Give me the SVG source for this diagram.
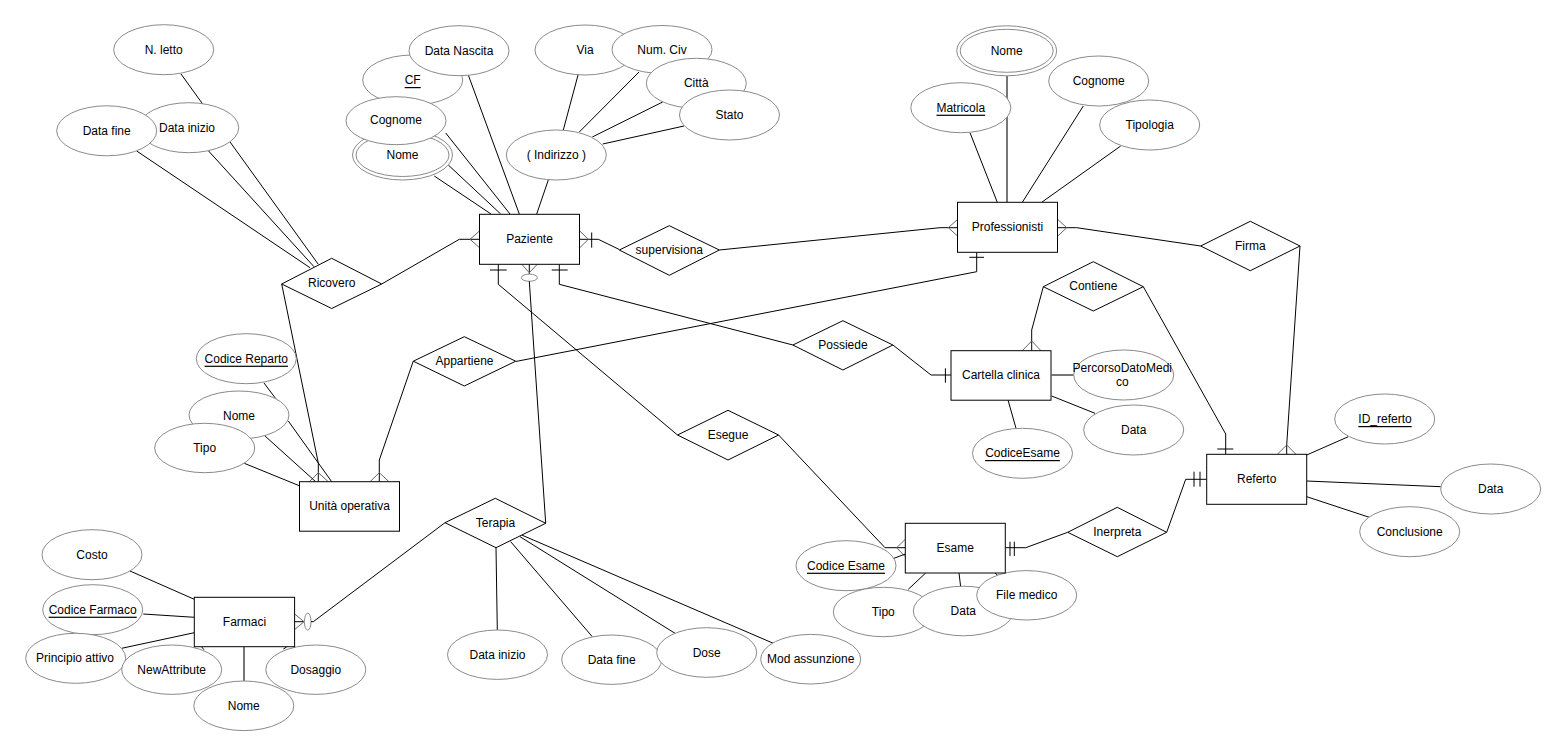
<svg xmlns="http://www.w3.org/2000/svg" width="1567" height="756" viewBox="0 0 1567 756">
<style>
.e{fill:#fff;stroke:#8a8a8a;stroke-width:1}
.r{fill:#fff;stroke:#000;stroke-width:1}
.l{fill:none;stroke:#000;stroke-width:1}
.g{fill:none;stroke:#777;stroke-width:2}
.cf{fill:none;stroke:#666;stroke-width:1}
text{font-family:"Liberation Sans",Arial,Helvetica,sans-serif;font-size:12px;text-anchor:middle;dominant-baseline:central;fill:#000}
.u{text-decoration:underline}
</style>
<rect width="1567" height="756" fill="#fff"/>
<g id="connectors">
<!-- Ricovero - Paziente -->
<path class="l" d="M381.7,284 L459.3,239.3 L480,239.3"/>
<path class="cf" d="M479.5,231 L470,239.3 L479.5,247.7"/>
<!-- Ricovero - Unita operativa -->
<path class="l" d="M281.7,284 L318.3,463 L318.3,481.7"/>
<path class="cf" d="M309.3,481.7 L318.3,472.7 L328.3,481.7"/>
<!-- Ricovero attributes -->
<path class="l" d="M136.7,151 L310,267.7"/>
<path class="l" d="M208.3,150.7 L314,266.7"/>
<path class="l" d="M181,74 L318.3,264.3"/>
<!-- Paziente - supervisiona - Professionisti -->
<path class="l" d="M579.3,239.3 L598.3,239.3 L619.3,249.5"/>
<path class="cf" d="M579.8,231 L588.3,239.3 L579.8,247.7"/>
<path class="l" d="M591.7,232.5 L591.7,247.7"/>
<path class="l" d="M719.3,250 L940,227.7 L958,227.7"/>
<path class="cf" d="M957.5,219.5 L948.3,227.7 L957.5,236"/>
<!-- Professionisti - Firma - Referto -->
<path class="l" d="M1057.3,227.7 L1076.7,227.7 L1200.7,246"/>
<path class="cf" d="M1057.8,219.5 L1066.7,227.7 L1057.8,236"/>
<path class="l" d="M1300,246 L1286.7,445 L1286.7,454.3"/>
<path class="cf" d="M1277.3,454.3 L1286.7,445 L1296,454.3"/>
<!-- Appartiene -->
<path class="l" d="M413.3,361 L379.3,460 L379.3,481.7"/>
<path class="cf" d="M370,481.7 L379.3,472.7 L389,481.7"/>
<path class="l" d="M515.7,361.5 L976.7,271.7 L976.7,252.3"/>
<path class="l" d="M969.3,257.3 L984,257.3"/>
<!-- Paziente - Esegue -->
<path class="l" d="M498.3,264.3 L498.3,284.3 L677.5,435"/>
<path class="l" d="M490,270 L506.7,270"/>
<!-- Paziente - Possiede -->
<path class="l" d="M559.3,264.3 L559.3,284.3 L792.9,345"/>
<path class="l" d="M551.7,270 L567.7,270"/>
<!-- Paziente - Terapia -->
<path class="l" d="M529.3,264.3 L529.3,274"/>
<path class="cf" d="M521.7,264.3 L529.3,272.7 L537.3,264.3"/>
<ellipse class="e" cx="529.3" cy="277.7" rx="8" ry="3.6"/>
<path class="l" d="M529.3,281.3 L545.7,523.3"/>
<!-- Possiede - Cartella -->
<path class="l" d="M892.9,345 L931,375 L951,375"/>
<path class="l" d="M945.4,368.3 L945.4,382.7"/>
<!-- Esegue - Esame -->
<path class="l" d="M778.6,435 L885,547.7 L905.3,547.7"/>
<path class="cf" d="M905.3,539.3 L896.7,547.7 L905.3,556.7"/>
<!-- Contiene -->
<path class="l" d="M1043.3,286.7 L1031.7,330 L1031.7,350.7"/>
<path class="cf" d="M1022.3,350.7 L1031.7,341 L1041,350.7"/>
<path class="l" d="M1143.3,286.7 L1225.7,434 L1225.7,454.3"/>
<path class="l" d="M1217.3,449 L1233.3,449"/>
<!-- Esame - Inerpreta - Referto -->
<path class="l" d="M1005.3,547.7 L1025.7,547.7 L1067.7,532.3"/>
<path class="l" d="M1010,541.7 L1010,556 M1014.3,541.7 L1014.3,556"/>
<path class="l" d="M1166.7,532.3 L1185.7,479.3 L1206.7,479.3"/>
<path class="l" d="M1194,471.7 L1194,486.7 M1200,471.7 L1200,486.7"/>
<!-- Farmaci - Terapia -->
<path class="l" d="M294.7,621.7 L304,621.7"/>
<path class="cf" d="M294.7,614 L304,621.7 L294.7,629.5"/>
<ellipse class="e" cx="307.7" cy="621.7" rx="3.3" ry="8.5"/>
<path class="l" d="M311,621.7 L313.3,621.7 L445,522.7"/>
<!-- Paziente attributes -->
<path class="l" d="M434.3,176 L491,214"/>
<path class="l" d="M448.3,165 L500.7,214"/>
<path class="l" d="M445.7,133 L510,214"/>
<path class="l" d="M468.3,75 L519.3,214"/>
<path class="l" d="M548.3,180 L536.7,214"/>
<path class="l" d="M563.3,130 L578.3,74"/>
<path class="l" d="M579.3,132 L639,72"/>
<path class="l" d="M592.3,137 L662.7,102"/>
<path class="l" d="M602.7,144 L684,126"/>
<!-- Professionisti attributes -->
<path class="l" d="M970,132.7 L997.3,202.3"/>
<path class="g" d="M1007,76 L1007,202.3"/>
<path class="l" d="M1083.3,106 L1022.3,202.3"/>
<path class="l" d="M1120.7,146 L1041.7,202.3"/>
<!-- Unita operativa attributes -->
<path class="l" d="M264,383 L276,399"/>
<path class="l" d="M288.3,421 L331.7,481.7"/>
<path class="l" d="M265,436 L315.7,481.7"/>
<path class="l" d="M244.3,463.3 L300,486"/>
<!-- Cartella attributes -->
<path class="g" d="M1051.7,375 L1074,375"/>
<path class="l" d="M1051.7,396 L1095,413.3"/>
<path class="l" d="M1008,400 L1016,428.3"/>
<!-- Referto attributes -->
<path class="l" d="M1306.7,455 L1348.3,436.7"/>
<path class="l" d="M1306.7,481 L1440.7,486.7"/>
<path class="l" d="M1306.7,496.7 L1369.3,517.3"/>
<!-- Esame attributes -->
<path class="l" d="M894,558.3 L905.3,554"/>
<path class="l" d="M925.7,573 L908.3,589.3"/>
<path class="l" d="M959,573 L960.7,587"/>
<path class="l" d="M995,573 L998.3,576"/>
<!-- Farmaci attributes -->
<path class="l" d="M130,571 L194.3,599.3"/>
<path class="l" d="M143.3,614 L194.3,617.3"/>
<path class="l" d="M121.7,648.3 L194.3,632.7"/>
<path class="g" d="M244,647 L244,681"/>
<path class="l" d="M201.7,647 L204,649.7"/>
<path class="l" d="M283.3,649 L286.7,647"/>
<!-- Terapia attributes -->
<path class="l" d="M496,547.7 L497.3,630"/>
<path class="l" d="M510.7,541.7 L592.3,636.7"/>
<path class="l" d="M520,536.7 L675,633.3"/>
<path class="l" d="M521.7,535 L773.3,643.3"/>
</g>

<g id="attr-nletto"><ellipse class="e" cx="163.7" cy="49.7" rx="50" ry="25"/><text x="163.7" y="49.7">N. letto</text></g>
<g id="attr-datainizio-ric"><ellipse class="e" cx="188.7" cy="127.7" rx="50" ry="25"/><text x="187" y="127.7">Data inizio</text></g>
<g id="attr-datafine-ric"><ellipse class="e" cx="106.7" cy="130.8" rx="50" ry="25"/><text x="106.7" y="130.8">Data fine</text></g>

<g id="attr-nome-paz"><ellipse class="e" cx="402.5" cy="155" rx="50" ry="25"/><ellipse class="e" cx="402.5" cy="155" rx="46.5" ry="21.5"/><text x="402.5" y="154.5">Nome</text></g>
<g id="attr-cf"><ellipse class="e" cx="412.7" cy="80" rx="50" ry="25"/><text class="u" x="412.7" y="80">CF</text></g>
<g id="attr-cognome-paz"><ellipse class="e" cx="396" cy="120.7" rx="50" ry="24"/><text x="396" y="120">Cognome</text></g>
<g id="attr-datanascita"><ellipse class="e" cx="459" cy="50.7" rx="50" ry="25"/><text x="459" y="50.7">Data Nascita</text></g>

<g id="attr-via"><ellipse class="e" cx="585" cy="50" rx="50" ry="25"/><text x="585" y="50">Via</text></g>
<g id="attr-numciv"><ellipse class="e" cx="662" cy="49.5" rx="50" ry="24"/><text x="662" y="49.5">Num. Civ</text></g>
<g id="attr-citta"><ellipse class="e" cx="696.3" cy="83.3" rx="50" ry="25"/><text x="696.3" y="83.3">Città</text></g>
<g id="attr-stato"><ellipse class="e" cx="729.5" cy="115" rx="50" ry="25"/><text x="729.5" y="115">Stato</text></g>
<g id="attr-indirizzo"><ellipse class="e" cx="556.3" cy="155" rx="50" ry="25"/><text x="556.3" y="155">( Indirizzo )</text></g>

<g id="attr-nome-prof"><ellipse class="e" cx="1006.7" cy="50.8" rx="50" ry="25"/><ellipse class="e" cx="1006.7" cy="50.8" rx="46.5" ry="21.5"/><text x="1006.7" y="50.5">Nome</text></g>
<g id="attr-matricola"><ellipse class="e" cx="960.8" cy="107.7" rx="50" ry="25"/><text class="u" x="960.8" y="107.7">Matricola</text></g>
<g id="attr-cognome-prof"><ellipse class="e" cx="1098.7" cy="81" rx="50" ry="25"/><text x="1098.7" y="81">Cognome</text></g>
<g id="attr-tipologia"><ellipse class="e" cx="1149.7" cy="125" rx="50" ry="25"/><text x="1149.7" y="125">Tipologia</text></g>

<g id="attr-codicereparto"><ellipse class="e" cx="246.3" cy="358.7" rx="50" ry="25"/><text class="u" x="246.3" y="358.7">Codice Reparto</text></g>
<g id="attr-nome-uo"><ellipse class="e" cx="239" cy="415" rx="50" ry="24"/><text x="239" y="415.7">Nome</text></g>
<g id="attr-tipo-uo"><ellipse class="e" cx="204.7" cy="448" rx="50" ry="24.7"/><text x="204.7" y="447.7">Tipo</text></g>

<g id="attr-percorso"><ellipse class="e" cx="1123.7" cy="375" rx="50" ry="25"/><text x="1122.3" y="367.7">PercorsoDatoMedi</text><text x="1122.3" y="381.7">co</text></g>
<g id="attr-data-cart"><ellipse class="e" cx="1133.7" cy="430" rx="50" ry="25"/><text x="1133.7" y="430">Data</text></g>
<g id="attr-codiceesame-cart"><ellipse class="e" cx="1022.5" cy="453.3" rx="50" ry="25"/><text class="u" x="1022.5" y="453">CodiceEsame</text></g>

<g id="attr-idreferto"><ellipse class="e" cx="1384.7" cy="419" rx="50" ry="25"/><text class="u" x="1385" y="419">ID_referto</text></g>
<g id="attr-data-ref"><ellipse class="e" cx="1490.7" cy="489" rx="50" ry="25"/><text x="1490.7" y="488.7">Data</text></g>
<g id="attr-conclusione"><ellipse class="e" cx="1409.7" cy="531.7" rx="50" ry="25"/><text x="1409.7" y="531.7">Conclusione</text></g>

<g id="attr-codiceesame"><ellipse class="e" cx="846" cy="565.7" rx="50" ry="25"/><text class="u" x="846" y="565.7">Codice Esame</text></g>
<g id="attr-tipo-esame"><ellipse class="e" cx="883.3" cy="612" rx="50" ry="24.7"/><text x="883.3" y="612">Tipo</text></g>
<g id="attr-data-esame"><ellipse class="e" cx="963.3" cy="611" rx="50" ry="24.8"/><text x="963.3" y="610.7">Data</text></g>
<g id="attr-filemedico"><ellipse class="e" cx="1026.7" cy="595.3" rx="50" ry="24.7"/><text x="1026.7" y="595.3">File medico</text></g>

<g id="attr-costo"><ellipse class="e" cx="92" cy="554.7" rx="50" ry="25"/><text x="92" y="554.7">Costo</text></g>
<g id="attr-codicefarmaco"><ellipse class="e" cx="92.7" cy="609.7" rx="50" ry="25"/><text class="u" x="92.7" y="609.7">Codice Farmaco</text></g>
<g id="attr-principio"><ellipse class="e" cx="75.7" cy="658.3" rx="50" ry="25"/><text x="75" y="658.3">Principio attivo</text></g>
<g id="attr-newattribute"><ellipse class="e" cx="171.7" cy="669.7" rx="50" ry="24.7"/><text x="171.7" y="669.7">NewAttribute</text></g>
<g id="attr-dosaggio"><ellipse class="e" cx="315.8" cy="669.7" rx="50" ry="24.7"/><text x="315.8" y="669.7">Dosaggio</text></g>
<g id="attr-nome-farm"><ellipse class="e" cx="243.8" cy="705.8" rx="50" ry="24.8"/><text x="243.8" y="705.8">Nome</text></g>

<g id="attr-datainizio-ter"><ellipse class="e" cx="497.5" cy="654.7" rx="50" ry="24.7"/><text x="497.5" y="654.7">Data inizio</text></g>
<g id="attr-datafine-ter"><ellipse class="e" cx="611.7" cy="659.7" rx="50" ry="24.7"/><text x="611.7" y="660">Data fine</text></g>
<g id="attr-dose"><ellipse class="e" cx="706.7" cy="652.5" rx="50" ry="24.8"/><text x="706.7" y="652.5">Dose</text></g>
<g id="attr-modassunzione"><ellipse class="e" cx="810.7" cy="659.2" rx="50" ry="24.8"/><text x="810.7" y="659.2">Mod assunzione</text></g>

<g id="entity-paziente"><rect class="r" x="479.5" y="214.3" width="100" height="50"/><text x="529.5" y="239">Paziente</text></g>
<g id="entity-professionisti"><rect class="r" x="957.5" y="202.3" width="100" height="50"/><text x="1007.5" y="227">Professionisti</text></g>
<g id="entity-unita-operativa"><rect class="r" x="299.5" y="481.7" width="100" height="49.5"/><text x="349.5" y="506">Unità operativa</text></g>
<g id="entity-cartella"><rect class="r" x="951" y="350.7" width="100" height="49.5"/><text x="1001" y="375">Cartella clinica</text></g>
<g id="entity-referto"><rect class="r" x="1206.7" y="454.3" width="100" height="50"/><text x="1256.7" y="479">Referto</text></g>
<g id="entity-esame"><rect class="r" x="905.3" y="523.3" width="100" height="49.7"/><text x="955.3" y="547.7">Esame</text></g>
<g id="entity-farmaci"><rect class="r" x="194.3" y="597.3" width="100.3" height="49.4"/><text x="244.5" y="622">Farmaci</text></g>

<g id="rel-ricovero"><path class="r" d="M281.7,284 L331.7,258.3 L381.7,284 L331.7,308.5 Z"/><text x="331.7" y="283">Ricovero</text></g>
<g id="rel-supervisiona"><path class="r" d="M619.3,250 L669.3,225.7 L719.3,250 L669.3,275.3 Z"/><text x="669.3" y="250">supervisiona</text></g>
<g id="rel-firma"><path class="r" d="M1200.7,246 L1250.3,221.3 L1300,246 L1250.3,270.7 Z"/><text x="1250.3" y="246">Firma</text></g>
<g id="rel-contiene"><path class="r" d="M1043.3,286.7 L1093.3,261.7 L1143.3,286.7 L1093.3,311 Z"/><text x="1093.3" y="285.5">Contiene</text></g>
<g id="rel-possiede"><path class="r" d="M792.9,345 L842.9,320.7 L892.9,345 L842.9,370 Z"/><text x="842.9" y="345">Possiede</text></g>
<g id="rel-appartiene"><path class="r" d="M413.3,361.2 L464.3,336.7 L515.7,361.2 L464.3,386 Z"/><text x="464.5" y="360.5">Appartiene</text></g>
<g id="rel-esegue"><path class="r" d="M677.5,435 L728,410.3 L778.6,435 L728,460 Z"/><text x="728" y="435">Esegue</text></g>
<g id="rel-terapia"><path class="r" d="M445,522.7 L495.3,498.3 L545.7,523.3 L496,547.7 Z"/><text x="495.5" y="522.5">Terapia</text></g>
<g id="rel-inerpreta"><path class="r" d="M1067.7,532.3 L1117.3,507.3 L1166.7,532.3 L1117.3,556.7 Z"/><text x="1117.3" y="532">Inerpreta</text></g>
</svg>
